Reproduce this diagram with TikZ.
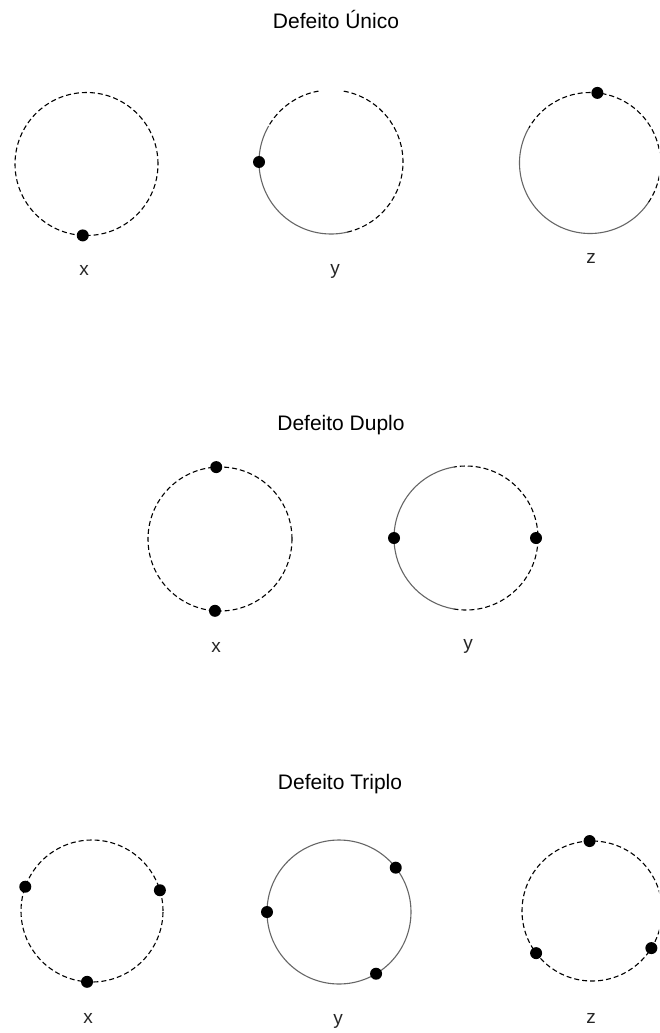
\documentclass[tikz,border=0pt]{standalone}
\usepackage{fontspec}
\setmainfont{Liberation Sans}
\begin{document}
\begin{tikzpicture}[x=1pt,y=1pt,
  title/.style={anchor=base,font=\fontsize{21}{24}\selectfont,inner sep=0pt},
  lbl/.style={anchor=base,font=\fontsize{19}{22}\selectfont,inner sep=0pt,text=black!85},
  dashring/.style={line width=1.1pt,dash pattern=on 5pt off 3pt,black},
  solidring/.style={line width=1.1pt,black!60},
  defect/.style={circle,fill=black,inner sep=0pt,minimum size=12pt}]
\useasboundingbox (0,0) rectangle (659,-1033);
\clip (0,0) rectangle (659,-1033);
% titles
\node[title] (t1) at (336,-29) {Defeito Único};
\node[title] (t2) at (341,-430) {Defeito Duplo};
\node[title] (t3) at (340,-789) {Defeito Triplo};
% ---- row 1 ----
\coordinate (a1) at (86.5,-164);
\coordinate (a2) at (331,-162);
\coordinate (a3) at (590,-163);
\draw[dashring] (a1) circle[radius=71.5];
\draw[solidring] ([shift={(150:72)}]a2) arc[start angle=150,end angle=283,radius=72];
\draw[dashring] ([shift={(-77:72)}]a2) arc[start angle=-77,end angle=82,radius=72];
\draw[dashring] ([shift={(100:72)}]a2) arc[start angle=100,end angle=150,radius=72];
\draw[solidring] ([shift={(150:70.5)}]a3) arc[start angle=150,end angle=326,radius=70.5];
\draw[dashring] ([shift={(-34:70.5)}]a3) arc[start angle=-34,end angle=150,radius=70.5];
\node[defect] (da1) at ([shift={(267:71.5)}]a1) {};
\node[defect] (da2) at ([shift={(180:72)}]a2) {};
\node[defect] (da3) at ([shift={(84:70.5)}]a3) {};
\node[lbl] (la1) at (84,-275) {x};
\node[lbl] (la2) at (335,-274) {y};
\node[lbl] (la3) at (591,-263) {z};
% ---- row 2 ----
\coordinate (b1) at (220,-539);
\coordinate (b2) at (466,-538);
\draw[dashring] (b1) circle[radius=72];
\draw[solidring] ([shift={(100:72)}]b2) arc[start angle=100,end angle=260,radius=72];
\draw[dashring] ([shift={(-100:72)}]b2) arc[start angle=-100,end angle=100,radius=72];
\node[defect] (db1) at ([shift={(93:72)}]b1) {};
\node[defect] (db2) at ([shift={(266:72)}]b1) {};
\node[defect] (db3) at ([shift={(180:72)}]b2) {};
\node[defect] (db4) at ([shift={(0:70)}]b2) {};
\node[lbl] (lb1) at (216,-652) {x};
\node[lbl] (lb2) at (468,-649) {y};
% ---- row 3 ----
\coordinate (c1) at (92,-911);
\coordinate (c2) at (339,-912);
\coordinate (c3) at (592,-911);
\draw[dashring] (c1) circle[radius=71];
\draw[solidring] (c2) circle[radius=72];
\draw[dashring] (c3) circle[radius=70];
\node[defect] (dc1) at ([shift={(160:71)}]c1) {};
\node[defect] (dc2) at ([shift={(17:71)}]c1) {};
\node[defect] (dc3) at ([shift={(266:71)}]c1) {};
\node[defect] (dc4) at ([shift={(38:72)}]c2) {};
\node[defect] (dc5) at ([shift={(180:72)}]c2) {};
\node[defect] (dc6) at ([shift={(301:72)}]c2) {};
\node[defect] (dc7) at ([shift={(92:70)}]c3) {};
\node[defect] (dc8) at ([shift={(217:70)}]c3) {};
\node[defect] (dc9) at ([shift={(328:70)}]c3) {};
\node[lbl] (lc1) at (88,-1023) {x};
\node[lbl] (lc2) at (338,-1024) {y};
\node[lbl] (lc3) at (591,-1023) {z};
\end{tikzpicture}
\end{document}
